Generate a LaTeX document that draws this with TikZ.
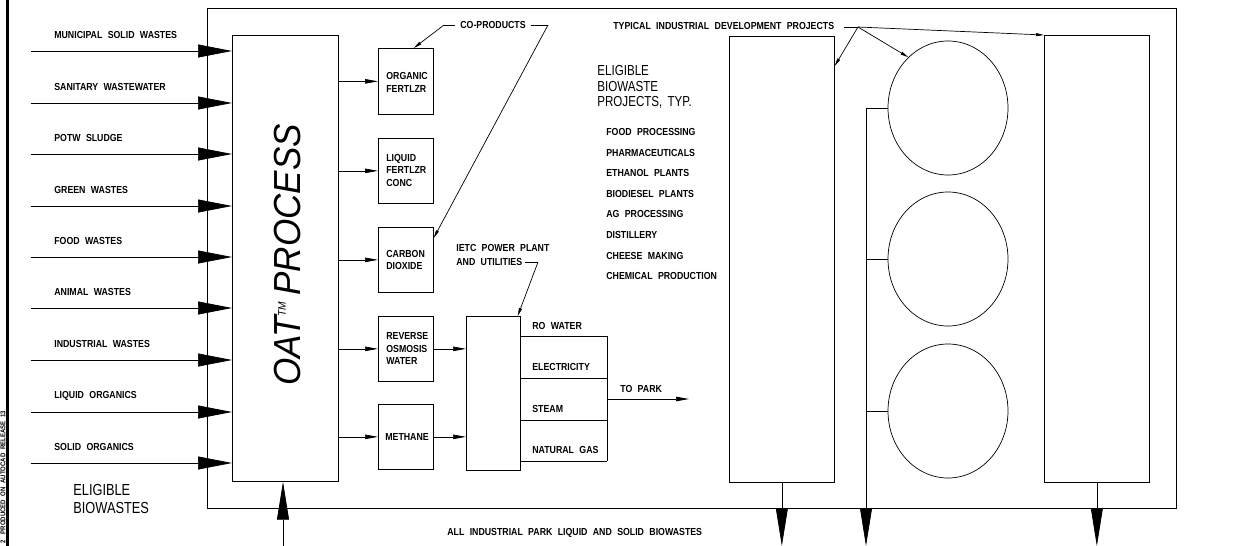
\documentclass[tikz,border=0pt]{standalone}
\usepackage{fontspec}
\setmainfont{Liberation Sans}
\newfontfamily\cadb{Liberation Sans}[FakeStretch=0.86,WordSpace=2.2]
\newfontfamily\cadr{Liberation Sans}[FakeStretch=0.8,WordSpace=1.6]
\newfontfamily\cadi{Liberation Sans}[FakeStretch=0.93]
\usetikzlibrary{arrows.meta,shapes.geometric}
\begin{document}
\begin{tikzpicture}[x=1pt,y=-1pt,line width=0.7pt,
  lbl/.style={inner sep=0pt,font=\cadb\bfseries\fontsize{10.2}{12.5}\selectfont,align=left},
  bigtxt/.style={inner sep=0pt,font=\cadr\fontsize{16}{18.3}\selectfont,align=left},
  box/.style={draw,inner sep=0pt,anchor=north west},
  bigarrow/.style={-{Triangle[length=34pt,width=13pt]}},
  botarrow/.style={-{Triangle[length=38pt,width=12pt]}},
  smallarrow/.style={-{Triangle[length=13pt,width=4.5pt]}},
  leadarrow/.style={-{Triangle[length=8pt,width=3pt]}}]
\useasboundingbox (0,0) rectangle (1258,546);
\fill[white] (0,0) rectangle (1258,546);

% left edge bar and note
\coordinate (barT) at (7.5,0);
\coordinate (barB) at (7.5,546);
\draw[line width=3pt] (barT) -- (barB);
\node[rotate=90,anchor=west,inner sep=0pt,font=\cadb\bfseries\fontsize{7}{7}\selectfont] (note) at (3,544) {2\hspace{6pt}PRODUCED ON AUTOCAD RELEASE 13};

% outer frame
\node[box,minimum width=969,minimum height=500.5] (frame) at (207,7.5) {};

% OAT process box
\node[box,minimum width=106,minimum height=446] (oat) at (232,35) {};
\node[rotate=90,inner sep=0pt,font=\cadi\itshape\fontsize{37.7}{40}\selectfont] (oatt) at (288,255)
  {OAT\raisebox{15pt}{\fontsize{11}{11}\selectfont TM}\,PROCESS};

% inputs
\foreach \y/\t [count=\i] in {51/MUNICIPAL SOLID WASTES,103/SANITARY WASTEWATER,154/POTW SLUDGE,206/GREEN WASTES,257/FOOD WASTES,308/ANIMAL WASTES,360/INDUSTRIAL WASTES,412/LIQUID ORGANICS,463/SOLID ORGANICS}{
  \coordinate (src\i) at (31,\y);
  \node[lbl,anchor=west] (lab\i) at (54,\y-16.5) {\t};
  \draw[bigarrow] (src\i) -- (src\i -| oat.west);
}
\node[bigtxt,anchor=west] (elig) at (73,499) {ELIGIBLE\\BIOWASTES};

% bottom input into OAT
\coordinate (bioin) at (283,546);
\draw[botarrow] (bioin) -- (bioin |- oat.south);
\node[lbl,anchor=west] (alltxt) at (447,533) {ALL INDUSTRIAL PARK LIQUID AND SOLID BIOWASTES};

% co-product boxes
\node[box,minimum width=55,minimum height=66] (b1) at (378,48) {};
\node[box,minimum width=55,minimum height=65] (b2) at (378,138) {};
\node[box,minimum width=55,minimum height=65] (b3) at (378,227) {};
\node[box,minimum width=55,minimum height=65] (b4) at (378,316) {};
\node[box,minimum width=55,minimum height=65] (b5) at (378,404) {};
\node[lbl,anchor=west] (t1) at (386,82.5) {ORGANIC\\FERTLZR};
\node[lbl,anchor=west] (t2) at (386,170) {LIQUID\\FERTLZR\\CONC};
\node[lbl,anchor=west] (t3) at (386,260) {CARBON\\DIOXIDE};
\node[lbl,anchor=west] (t4) at (386,348.5) {REVERSE\\OSMOSIS\\WATER};
\node[lbl,anchor=west] (t5) at (385,437) {METHANE};
\foreach \i in {1,...,5}{
  \draw[smallarrow] (oat.east |- b\i.west) -- (b\i.west);
}

% co-products leader
\node[lbl,anchor=west] (cop) at (460,25) {CO-PRODUCTS};
\coordinate (cpLs) at (455,25);
\coordinate (cpL) at (444,25);
\coordinate (cpRs) at (531,25);
\coordinate (cpR) at (548,25);
\draw (cpLs) -- (cpL);
\draw[leadarrow] (cpL) -- ([xshift=8pt]b1.north);
\draw (cpRs) -- (cpR);
\draw[leadarrow] (cpR) -- ([yshift=-11pt]b3.north east);

% IETC power plant
\node[box,minimum width=54,minimum height=154] (ietc) at (466,316) {};
\draw[smallarrow] (b4.east) -- (b4.east -| ietc.west);
\draw[smallarrow] (b5.east) -- (b5.east -| ietc.west);
\node[lbl,anchor=west] (ietct) at (456,255) {IETC POWER PLANT\\[1.5pt]AND UTILITIES};
\coordinate (iL1) at (525,262);
\coordinate (iL2) at (538,262);
\draw (iL1) -- (iL2);
\draw[leadarrow] (iL2) -- ([xshift=-3pt]ietc.north east);

% utilities table
\foreach \y [count=\i] in {336,378,420,461}{
  \coordinate (s\i) at (ietc.east |- 0,\y);
  \coordinate (e\i) at (607,\y);
  \draw (s\i) -- (e\i);
}
\draw (e1) -- (e4);
\node[lbl,anchor=west] (u1) at (532,326) {RO WATER};
\node[lbl,anchor=west] (u2) at (532,367) {ELECTRICITY};
\node[lbl,anchor=west] (u3) at (532,409) {STEAM};
\node[lbl,anchor=west] (u4) at (532,450) {NATURAL GAS};
\coordinate (tp0) at (607,399);
\coordinate (park) at (689,399);
\draw[smallarrow] (tp0) -- (park);
\node[lbl,anchor=west] (topark) at (620,389) {TO PARK};

% eligible biowaste projects
\node[bigtxt,anchor=west,font=\cadr\fontsize{14.5}{15.3}\selectfont] (ebp) at (597,87) {ELIGIBLE\\BIOWASTE\\PROJECTS, TYP.};
\foreach \t [count=\i] in {FOOD PROCESSING,PHARMACEUTICALS,ETHANOL PLANTS,BIODIESEL PLANTS,AG PROCESSING,DISTILLERY,CHEESE MAKING,CHEMICAL PRODUCTION}{
  \node[lbl,anchor=west] (lst\i) at (606,{132+20.6*(\i-1)}) {\t};
}

% industrial development projects
\node[box,minimum width=105,minimum height=446] (bA) at (729,36) {};
\node[box,minimum width=105,minimum height=447] (bB) at (1044,35) {};
\node[draw,ellipse,inner sep=0pt,minimum width=120,minimum height=134] (c1) at (948,108) {};
\node[draw,ellipse,inner sep=0pt,minimum width=120,minimum height=134] (c2) at (948,259) {};
\node[draw,ellipse,inner sep=0pt,minimum width=120,minimum height=134] (c3) at (948,411) {};
\coordinate (mtop) at (866,108);
\coordinate (mbot) at (866,546);
\draw (c1.west) -- (mtop);
\draw[botarrow] (mtop) -- (mbot);
\draw (c2.west) -- (c2.west -| mtop);
\draw (c3.west) -- (c3.west -| mtop);
\draw[botarrow] (bA.south) -- (bA.south |- mbot);
\draw[botarrow] (bB.south) -- (bB.south |- mbot);

\node[lbl,anchor=west] (typ) at (613,26) {TYPICAL INDUSTRIAL DEVELOPMENT PROJECTS};
\coordinate (tyS) at (844,27);
\coordinate (tyP) at (858,27);
\draw (tyS) -- (tyP);
\draw[leadarrow] (tyP) -- (bA.east |- 0,66);
\draw[leadarrow] (tyP) -- (c1.128);
\draw[leadarrow] (tyP) -- (bB.north west);
\end{tikzpicture}
\end{document}
